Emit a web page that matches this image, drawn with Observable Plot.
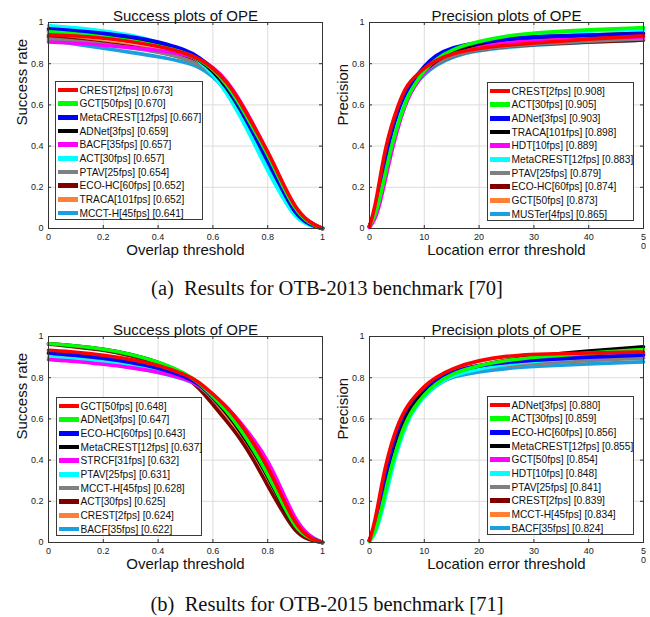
<!DOCTYPE html>
<html>
<head>
<meta charset="utf-8">
<script src="https://cdn.jsdelivr.net/npm/d3@7"></script>
<script src="https://cdn.jsdelivr.net/npm/@observablehq/plot@0.6"></script>
<style>
  html, body { margin: 0; padding: 0; background: #fff; }
  #root { position: relative; width: 650px; height: 617px; overflow: hidden; font-family: "Liberation Sans", Arial, sans-serif; }
  .panel { position: absolute; }
  .legend { position: absolute; background: #fff; border: 1px solid #3a3a3a; box-sizing: border-box; }
  .legend .row { position: absolute; left: 0; height: 14px; display: flex; align-items: center; white-space: nowrap; font-size: 10.2px; color: #111; }
  .legend .sw { width: 20px; height: 4.5px; margin-left: 2px; margin-right: 1.5px; }
  .caption { position: absolute; left: 2px; width: 650px; text-align: center; white-space: pre; line-height: 24px; font-family: "Liberation Serif", "Times New Roman", serif; font-size: 20.5px; color: #111; }
</style>
</head>
<body>
<div id="root"></div>
<script>
// ---------- data ----------
const rankColors = ["#ff0000", "#00ff00", "#0000ff", "#000000", "#ff00ff", "#00ffff", "#808080", "#800000", "#ff8033", "#1a9fe0"];

const successThresholds = [0, 0.1, 0.2, 0.3, 0.4, 0.5, 0.55, 0.6, 0.65, 0.7, 0.75, 0.8, 0.85, 0.9, 0.95, 1];
const precisionThresholds = [0, 1, 2, 3, 4, 5, 6, 7, 8, 10, 12, 15, 20, 25, 30, 40, 50];

const successTicks = [0, 0.2, 0.4, 0.6, 0.8, 1];
const precisionTicks = [0, 10, 20, 30, 40, 50];
const yTicks = [0, 0.2, 0.4, 0.6, 0.8, 1];

// OTB-2013 success
const succ2013Labels = ["CREST[2fps] [0.673]", "GCT[50fps] [0.670]", "MetaCREST[12fps] [0.667]", "ADNet[3fps] [0.659]", "BACF[35fps] [0.657]", "ACT[30fps] [0.657]", "PTAV[25fps] [0.654]", "ECO-HC[60fps] [0.652]", "TRACA[101fps] [0.652]", "MCCT-H[45fps] [0.641]"];
const succ2013Values = [
  [0.940, 0.935, 0.925, 0.908, 0.885, 0.852, 0.825, 0.780, 0.715, 0.615, 0.495, 0.375, 0.235, 0.100, 0.030, 0],
  [0.955, 0.945, 0.930, 0.912, 0.888, 0.853, 0.823, 0.775, 0.702, 0.600, 0.480, 0.360, 0.220, 0.090, 0.025, 0],
  [0.970, 0.960, 0.948, 0.932, 0.908, 0.868, 0.832, 0.780, 0.695, 0.585, 0.460, 0.330, 0.200, 0.070, 0.020, 0],
  [0.960, 0.950, 0.938, 0.920, 0.893, 0.855, 0.820, 0.765, 0.688, 0.580, 0.460, 0.330, 0.200, 0.070, 0.020, 0],
  [0.905, 0.900, 0.890, 0.878, 0.865, 0.845, 0.822, 0.785, 0.720, 0.620, 0.500, 0.370, 0.230, 0.090, 0.025, 0],
  [0.985, 0.975, 0.960, 0.940, 0.905, 0.860, 0.815, 0.750, 0.660, 0.545, 0.415, 0.280, 0.160, 0.050, 0.015, 0],
  [0.920, 0.910, 0.895, 0.878, 0.857, 0.825, 0.795, 0.750, 0.680, 0.580, 0.470, 0.340, 0.210, 0.080, 0.020, 0],
  [0.930, 0.915, 0.900, 0.883, 0.860, 0.828, 0.800, 0.760, 0.700, 0.600, 0.490, 0.370, 0.230, 0.090, 0.030, 0],
  [0.935, 0.920, 0.905, 0.888, 0.866, 0.832, 0.805, 0.765, 0.700, 0.600, 0.480, 0.360, 0.220, 0.080, 0.020, 0],
  [0.915, 0.895, 0.875, 0.855, 0.835, 0.808, 0.785, 0.740, 0.670, 0.560, 0.440, 0.310, 0.180, 0.060, 0.015, 0]
];

// OTB-2013 precision
const prec2013Labels = ["CREST[2fps] [0.908]", "ACT[30fps] [0.905]", "ADNet[3fps] [0.903]", "TRACA[101fps] [0.898]", "HDT[10fps] [0.889]", "MetaCREST[12fps] [0.883]", "PTAV[25fps] [0.879]", "ECO-HC[60fps] [0.874]", "GCT[50fps] [0.873]", "MUSTer[4fps] [0.865]"];
const prec2013Values = [
  [0.010, 0.100, 0.260, 0.400, 0.500, 0.580, 0.650, 0.700, 0.730, 0.780, 0.815, 0.850, 0.875, 0.890, 0.900, 0.920, 0.935],
  [0.010, 0.060, 0.160, 0.280, 0.400, 0.490, 0.570, 0.640, 0.690, 0.770, 0.820, 0.870, 0.910, 0.935, 0.950, 0.965, 0.975],
  [0.010, 0.080, 0.220, 0.360, 0.470, 0.560, 0.630, 0.680, 0.720, 0.790, 0.840, 0.880, 0.905, 0.920, 0.930, 0.940, 0.945],
  [0.010, 0.080, 0.220, 0.360, 0.470, 0.560, 0.630, 0.680, 0.720, 0.770, 0.810, 0.860, 0.900, 0.920, 0.930, 0.940, 0.948],
  [0.005, 0.040, 0.130, 0.250, 0.370, 0.470, 0.560, 0.630, 0.680, 0.760, 0.810, 0.860, 0.890, 0.905, 0.915, 0.925, 0.930],
  [0.010, 0.060, 0.170, 0.300, 0.420, 0.510, 0.590, 0.650, 0.700, 0.760, 0.810, 0.860, 0.905, 0.930, 0.945, 0.960, 0.965],
  [0.010, 0.070, 0.200, 0.330, 0.450, 0.540, 0.610, 0.660, 0.700, 0.760, 0.800, 0.840, 0.870, 0.885, 0.895, 0.910, 0.920],
  [0.010, 0.080, 0.210, 0.350, 0.460, 0.550, 0.620, 0.670, 0.710, 0.760, 0.800, 0.840, 0.870, 0.885, 0.895, 0.905, 0.915],
  [0.010, 0.080, 0.220, 0.360, 0.470, 0.560, 0.630, 0.680, 0.720, 0.770, 0.810, 0.850, 0.880, 0.895, 0.905, 0.920, 0.930],
  [0.010, 0.060, 0.170, 0.300, 0.420, 0.510, 0.590, 0.650, 0.690, 0.750, 0.790, 0.835, 0.865, 0.880, 0.890, 0.905, 0.915]
];

// OTB-2015 success
const succ2015Labels = ["GCT[50fps] [0.648]", "ADNet[3fps] [0.647]", "ECO-HC[60fps] [0.643]", "MetaCREST[12fps] [0.637]", "STRCF[31fps] [0.632]", "PTAV[25fps] [0.631]", "MCCT-H[45fps] [0.628]", "ACT[30fps] [0.625]", "CREST[2fps] [0.624]", "BACF[35fps] [0.622]"];
const succ2015Values = [
  [0.933, 0.925, 0.910, 0.890, 0.862, 0.815, 0.780, 0.720, 0.660, 0.580, 0.480, 0.370, 0.230, 0.090, 0.020, 0],
  [0.965, 0.955, 0.940, 0.915, 0.878, 0.822, 0.775, 0.710, 0.640, 0.550, 0.450, 0.330, 0.200, 0.070, 0.020, 0],
  [0.920, 0.910, 0.895, 0.875, 0.848, 0.805, 0.770, 0.710, 0.645, 0.560, 0.460, 0.350, 0.220, 0.080, 0.020, 0],
  [0.965, 0.955, 0.940, 0.915, 0.878, 0.820, 0.772, 0.705, 0.630, 0.540, 0.440, 0.320, 0.190, 0.070, 0.020, 0],
  [0.888, 0.880, 0.865, 0.850, 0.828, 0.795, 0.765, 0.715, 0.660, 0.585, 0.500, 0.400, 0.260, 0.110, 0.030, 0],
  [0.900, 0.890, 0.875, 0.860, 0.838, 0.800, 0.768, 0.710, 0.650, 0.570, 0.470, 0.360, 0.230, 0.090, 0.030, 0],
  [0.917, 0.905, 0.890, 0.870, 0.843, 0.800, 0.762, 0.700, 0.630, 0.545, 0.440, 0.330, 0.200, 0.070, 0.020, 0],
  [0.963, 0.950, 0.935, 0.908, 0.870, 0.810, 0.750, 0.670, 0.590, 0.505, 0.400, 0.275, 0.160, 0.050, 0.010, 0],
  [0.925, 0.915, 0.900, 0.880, 0.852, 0.805, 0.760, 0.690, 0.620, 0.535, 0.430, 0.320, 0.190, 0.070, 0.020, 0],
  [0.898, 0.890, 0.870, 0.850, 0.828, 0.792, 0.762, 0.710, 0.645, 0.565, 0.470, 0.360, 0.220, 0.080, 0.020, 0]
];

// OTB-2015 precision
const prec2015Labels = ["ADNet[3fps] [0.880]", "ACT[30fps] [0.859]", "ECO-HC[60fps] [0.856]", "MetaCREST[12fps] [0.855]", "GCT[50fps] [0.854]", "HDT[10fps] [0.848]", "PTAV[25fps] [0.841]", "CREST[2fps] [0.839]", "MCCT-H[45fps] [0.834]", "BACF[35fps] [0.824]"];
const prec2015Values = [
  [0.010, 0.100, 0.250, 0.380, 0.480, 0.560, 0.620, 0.665, 0.700, 0.760, 0.800, 0.845, 0.885, 0.905, 0.915, 0.920, 0.925],
  [0.005, 0.050, 0.140, 0.260, 0.370, 0.460, 0.540, 0.600, 0.650, 0.720, 0.770, 0.820, 0.860, 0.885, 0.900, 0.920, 0.937],
  [0.010, 0.080, 0.210, 0.340, 0.450, 0.540, 0.610, 0.660, 0.700, 0.750, 0.790, 0.830, 0.860, 0.875, 0.885, 0.900, 0.910],
  [0.010, 0.070, 0.190, 0.320, 0.430, 0.520, 0.590, 0.640, 0.680, 0.740, 0.780, 0.825, 0.860, 0.885, 0.905, 0.930, 0.950],
  [0.010, 0.080, 0.210, 0.340, 0.450, 0.540, 0.610, 0.660, 0.700, 0.750, 0.790, 0.830, 0.860, 0.875, 0.885, 0.900, 0.910],
  [0.005, 0.040, 0.120, 0.230, 0.340, 0.440, 0.520, 0.590, 0.640, 0.710, 0.760, 0.810, 0.845, 0.865, 0.880, 0.900, 0.915],
  [0.010, 0.070, 0.190, 0.310, 0.420, 0.510, 0.580, 0.630, 0.670, 0.730, 0.770, 0.815, 0.845, 0.860, 0.870, 0.885, 0.895],
  [0.010, 0.060, 0.160, 0.280, 0.390, 0.480, 0.550, 0.610, 0.655, 0.715, 0.760, 0.810, 0.850, 0.875, 0.890, 0.905, 0.914],
  [0.010, 0.080, 0.210, 0.340, 0.440, 0.530, 0.590, 0.640, 0.680, 0.735, 0.775, 0.815, 0.845, 0.860, 0.870, 0.885, 0.898],
  [0.010, 0.070, 0.190, 0.320, 0.430, 0.520, 0.590, 0.640, 0.680, 0.735, 0.770, 0.805, 0.830, 0.845, 0.855, 0.868, 0.877]
];

const panels = [
  {title: "Success plots of OPE", xLabel: "Overlap threshold", yLabel: "Success rate", xs: successThresholds, xDomain: [0, 1], xTicks: successTicks, labels: succ2013Labels, values: succ2013Values, left: 0, top: 0, legend: {left: 55, top: 81, width: 148}},
  {title: "Precision plots of OPE", xLabel: "Location error threshold", yLabel: "Precision", xs: precisionThresholds, xDomain: [0, 50], xTicks: precisionTicks, labels: prec2013Labels, values: prec2013Values, left: 321, top: 0, legend: {left: 487, top: 82, width: 147}},
  {title: "Success plots of OPE", xLabel: "Overlap threshold", yLabel: "Success rate", xs: successThresholds, xDomain: [0, 1], xTicks: successTicks, labels: succ2015Labels, values: succ2015Values, left: 0, top: 314, legend: {left: 56, top: 397, width: 146}},
  {title: "Precision plots of OPE", xLabel: "Location error threshold", yLabel: "Precision", xs: precisionThresholds, xDomain: [0, 50], xTicks: precisionTicks, labels: prec2015Labels, values: prec2015Values, left: 321, top: 314, legend: {left: 487, top: 396, width: 147}}
];

const captions = [
  {text: "(a)  Results for OTB-2013 benchmark [70]", top: 276},
  {text: "(b)  Results for OTB-2015 benchmark [71]", top: 592}
];

// ---------- drawing ----------
const root = document.getElementById("root");

function fmtTick(d) {
  if (d === 50) return "5\n0";
  return String(d);
}

const innerW = 325 - 48 - 3;
const innerH = 270 - 22 - 42;
const tickLen = 3;

for (const p of panels) {
  const lineMarks = [];
  for (let r = p.values.length - 1; r >= 0; r--) {
    const rows = p.xs.map((x, i) => ({x, y: p.values[r][i]}));
    lineMarks.push(Plot.line(rows, {x: "x", y: "y", stroke: rankColors[r], strokeWidth: 3.6, curve: "basis", strokeLinejoin: "round"}));
  }
  const chart = Plot.plot({
    width: 325,
    height: 270,
    marginLeft: 48,
    marginRight: 3,
    marginTop: 22,
    marginBottom: 42,
    style: {fontFamily: "'Liberation Sans', Arial, sans-serif", background: "transparent", color: "#222"},
    x: {domain: p.xDomain, ticks: p.xTicks, tickFormat: fmtTick, tickSize: 0, tickPadding: 5, label: null},
    y: {domain: [0, 1], ticks: yTicks, tickFormat: fmtTick, tickSize: 0, tickPadding: 5, label: null},
    marks: [
      Plot.gridX(p.xTicks, {stroke: "#dcdcdc", strokeOpacity: 1}),
      Plot.gridY(yTicks, {stroke: "#dcdcdc", strokeOpacity: 1}),
      Plot.axisX({ticks: p.xTicks, tickFormat: fmtTick, tickSize: 0, tickPadding: 5, fontSize: 9, label: null}),
      Plot.axisY({ticks: yTicks, tickFormat: fmtTick, tickSize: 0, tickPadding: 5, fontSize: 9, label: null}),
      ...lineMarks,
      // inward MATLAB-style ticks on all four sides
      Plot.tickX(p.xTicks, {x: d => d, insetTop: innerH - tickLen, stroke: "#333"}),
      Plot.tickX(p.xTicks, {x: d => d, insetBottom: innerH - tickLen, stroke: "#333"}),
      Plot.tickY(yTicks, {y: d => d, insetRight: innerW - tickLen, stroke: "#333"}),
      Plot.tickY(yTicks, {y: d => d, insetLeft: innerW - tickLen, stroke: "#333"}),
      Plot.frame({stroke: "#333", strokeWidth: 1}),
      Plot.text([p.title], {text: d => d, frameAnchor: "top", dy: -12, fontSize: 15, fill: "#111"}),
      Plot.text([p.xLabel], {text: d => d, frameAnchor: "bottom", dy: 26, fontSize: 15, fill: "#111"}),
      Plot.text([p.yLabel], {text: d => d, frameAnchor: "left", rotate: -90, dx: -26, fontSize: 15, fill: "#111"})
    ]
  });
  chart.classList.add("panel");
  chart.style.left = p.left + "px";
  chart.style.top = p.top + "px";
  root.appendChild(chart);

  const lg = document.createElement("div");
  lg.className = "legend";
  lg.style.left = p.legend.left + "px";
  lg.style.top = p.legend.top + "px";
  lg.style.width = p.legend.width + "px";
  lg.style.height = "139px";
  p.labels.forEach((label, i) => {
    const row = document.createElement("div");
    row.className = "row";
    row.style.top = (1 + i * 13.67) + "px";
    const sw = document.createElement("div");
    sw.className = "sw";
    sw.style.background = rankColors[i];
    const tx = document.createElement("span");
    tx.textContent = label;
    row.appendChild(sw);
    row.appendChild(tx);
    lg.appendChild(row);
  });
  root.appendChild(lg);
}

for (const c of captions) {
  const d = document.createElement("div");
  d.className = "caption";
  d.style.top = c.top + "px";
  d.textContent = c.text;
  root.appendChild(d);
}
</script>
</body>
</html>
